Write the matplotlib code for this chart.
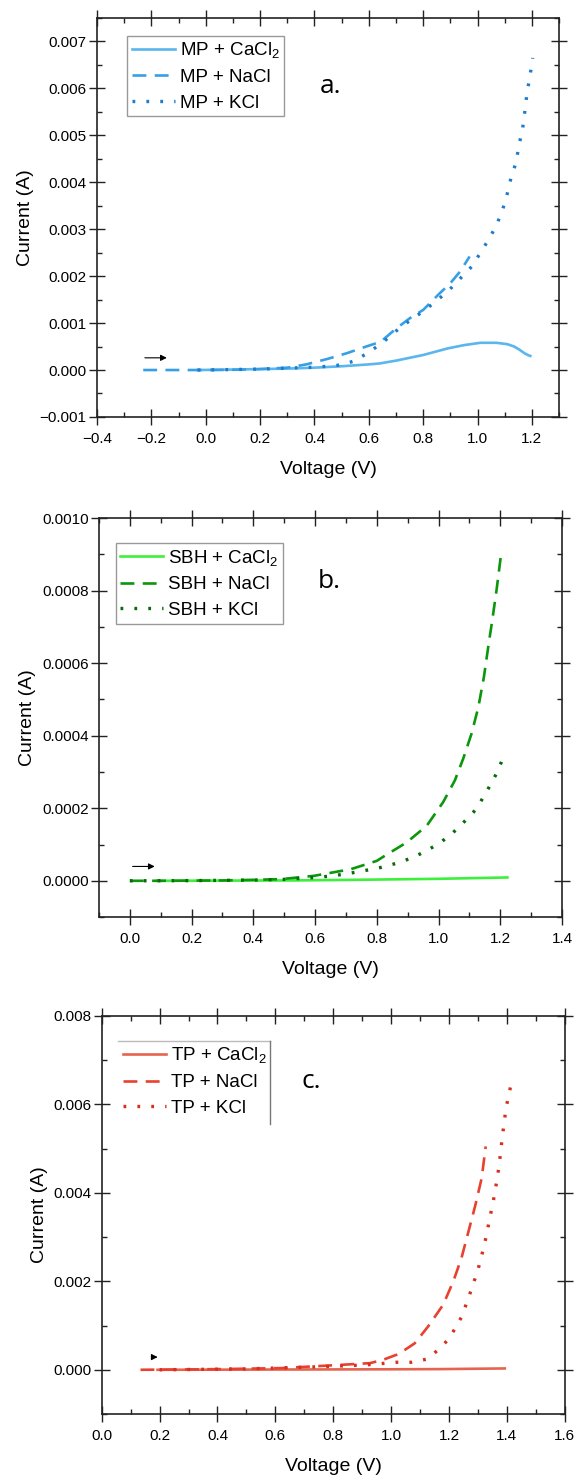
import numpy as np
import matplotlib
matplotlib.use('Agg')
import matplotlib.pyplot as plt
from matplotlib.ticker import MultipleLocator, AutoMinorLocator, FuncFormatter

plt.rcParams['font.family'] = ['Liberation Sans', 'DejaVu Sans']
plt.rcParams['mathtext.default'] = 'regular'
plt.rcParams['lines.scale_dashes'] = False

# ---- panel a: MP ----
a_ca_v = [-0.03, 0.0, 0.1, 0.2, 0.3, 0.4, 0.5, 0.6, 0.64, 0.7, 0.8, 0.89, 0.95, 1.01, 1.07, 1.11, 1.135, 1.155, 1.172, 1.185, 1.194]
a_ca_i = [0, 0.000002, 0.00001, 0.00002, 0.00003, 0.00005, 0.00008, 0.00012, 0.00014, 0.0002, 0.00032, 0.00046, 0.00053, 0.00058, 0.00058, 0.00055, 0.0005, 0.00043, 0.00036, 0.00032, 0.0003]
a_na_v = [-0.23, -0.1, 0.0, 0.1, 0.2, 0.3, 0.37, 0.45, 0.52, 0.59, 0.643, 0.70, 0.75, 0.80, 0.86, 0.90, 0.936, 0.971]
a_na_i = [0, 0, 0, 0.000005, 0.00002, 0.00005, 0.00012, 0.00024, 0.00036, 0.0005, 0.0006, 0.00088, 0.0011, 0.00128, 0.00163, 0.00185, 0.0021, 0.00242]
a_k_v = [-0.03, 0.1, 0.2, 0.3, 0.4, 0.45, 0.5, 0.55, 0.6, 0.65, 0.70, 0.75, 0.80, 0.846, 0.895, 0.938, 0.978, 1.012, 1.045, 1.07, 1.092, 1.107, 1.123, 1.141, 1.153, 1.166, 1.174, 1.182, 1.193, 1.203]
a_k_i = [0, 0.00001, 0.00002, 0.00004, 0.00006, 0.00008, 0.00011, 0.0002, 0.00038, 0.00058, 0.00083, 0.00105, 0.00125, 0.00146, 0.0017, 0.00196, 0.0022, 0.00251, 0.00282, 0.00309, 0.00341, 0.0037, 0.00409, 0.00441, 0.0048, 0.00515, 0.00551, 0.0059, 0.00627, 0.00665]
a_labels = ['MP + CaCl$_2$', 'MP + NaCl', 'MP + KCl']

# ---- panel b: SBH ----
b_ca_v = [0.087, 0.3, 0.53, 0.76, 1.0, 1.223]
b_ca_i = [0, 0.0000005, 0.000001, 0.000003, 0.0000055, 0.0000092]
b_na_v = [0.0, 0.1, 0.2, 0.3, 0.407, 0.49, 0.597, 0.716, 0.80, 0.826, 0.897, 0.962, 1.015, 1.053, 1.08, 1.107, 1.129, 1.147, 1.161, 1.175, 1.188, 1.201]
b_na_i = [0, 0, 0.0000005, 0.000001, 0.0000028, 0.0000046, 0.0000138, 0.000032, 0.000055, 0.000069, 0.000106, 0.000152, 0.000217, 0.000277, 0.000337, 0.000406, 0.000479, 0.000562, 0.000645, 0.000724, 0.000802, 0.00089]
b_k_v = [0.0, 0.2, 0.4, 0.5, 0.6, 0.65, 0.7, 0.76, 0.813, 0.862, 0.913, 0.962, 1.01, 1.046, 1.08, 1.113, 1.137, 1.165, 1.186, 1.207]
b_k_i = [0, 0.0000005, 0.000002, 0.000004, 0.000009, 0.000013, 0.000019, 0.000028, 0.0000368, 0.0000479, 0.0000628, 0.000083, 0.000108, 0.000132, 0.00016, 0.000189, 0.000219, 0.00026, 0.000293, 0.000334]
b_labels = ['SBH + CaCl$_2$', 'SBH + NaCl', 'SBH + KCl']

# ---- panel c: TP ----
c_ca_v = [0.193, 0.5, 0.787, 1.0, 1.166, 1.393]
c_ca_i = [0, 0.000004, 0.000008, 0.000011, 0.000015, 0.00003]
c_na_v = [0.134, 0.3, 0.408, 0.5, 0.623, 0.724, 0.823, 0.927, 0.97, 1.019, 1.05, 1.082, 1.128, 1.18, 1.215, 1.243, 1.266, 1.29, 1.313, 1.327]
c_na_i = [0, 0.000008, 0.000015, 0.000025, 0.000038, 0.000075, 0.00011, 0.00015, 0.00022, 0.00034, 0.00046, 0.0006, 0.00098, 0.00147, 0.002, 0.00252, 0.00309, 0.00369, 0.00433, 0.00505]
c_k_v = [0.2, 0.5, 0.787, 0.913, 1.019, 1.071, 1.123, 1.163, 1.197, 1.22, 1.244, 1.261, 1.281, 1.301, 1.316, 1.33, 1.341, 1.353, 1.364, 1.373, 1.385, 1.397, 1.406, 1.418]
c_k_i = [0, 0.00002, 0.000075, 0.00011, 0.00017, 0.00017, 0.00024, 0.00045, 0.00068, 0.00092, 0.0012, 0.00151, 0.00188, 0.00228, 0.00266, 0.00305, 0.00343, 0.0038, 0.00422, 0.0046, 0.0053, 0.0059, 0.0062, 0.00655]
c_labels = ['TP + CaCl$_2$', 'TP + NaCl', 'TP + KCl']


def fmt(dec):
    return FuncFormatter(lambda v, p: ('%.*f' % (dec, v)).replace('-', '\u2212'))


def style(ax, xlim, ylim, xmaj, ymaj, ydec):
    ax.set_xlim(*xlim)
    ax.set_ylim(*ylim)
    ax.xaxis.set_major_locator(MultipleLocator(xmaj))
    ax.yaxis.set_major_locator(MultipleLocator(ymaj))
    ax.xaxis.set_minor_locator(AutoMinorLocator(2))
    ax.yaxis.set_minor_locator(AutoMinorLocator(2))
    ax.xaxis.set_major_formatter(fmt(1))
    ax.yaxis.set_major_formatter(fmt(ydec))
    ax.tick_params(which='major', direction='inout', length=11, width=1.0,
                   top=True, right=True, labelsize=11, color='#222222')
    ax.tick_params(which='minor', direction='in', length=3.5, width=1.0,
                   top=True, right=True, color='#222222')
    ax.tick_params(axis='x', which='major', pad=5)
    ax.tick_params(axis='y', which='major', pad=2)
    for s in ax.spines.values():
        s.set_linewidth(1.2)
        s.set_color('#222222')
    ax.set_xlabel('Voltage (V)', fontsize=14, labelpad=11)
    ax.set_ylabel('Current (A)', fontsize=14, labelpad=4)


def draw(ax, curves, colors, labels, lw):
    ax.plot(curves[0][0], curves[0][1], color=colors[0], lw=lw, label=labels[0])
    ax.plot(curves[1][0], curves[1][1], color=colors[1], lw=lw, dashes=(10, 6), label=labels[1])
    ax.plot(curves[2][0], curves[2][1], color=colors[2], lw=lw + 0.5, dashes=(2, 8), label=labels[2])


def arrow(ax, x0, x1, y):
    ax.annotate('', xy=(x1, y), xytext=(x0, y),
                arrowprops=dict(arrowstyle='-|>', color='black', lw=0.8, mutation_scale=9))


fig = plt.figure(figsize=(5.74, 14.77), dpi=100)

leg_kw = dict(loc='upper left', fontsize=13.5, handlelength=2.3, handletextpad=0.25,
              labelspacing=0.46, borderpad=0.25, borderaxespad=0, fancybox=False,
              framealpha=1)

# panel a
ax1 = fig.add_axes([0.169, 0.7177, 0.805, 0.2701])
draw(ax1, [(a_ca_v, a_ca_i), (a_na_v, a_na_i), (a_k_v, a_k_i)],
     ['#5ab6ec', '#36a0e6', '#1f7ccc'], a_labels, 1.9)
style(ax1, (-0.4, 1.3), (-0.001, 0.0075), 0.2, 0.001, 3)
lg = ax1.legend(bbox_to_anchor=(0.065, 0.956), edgecolor='#999999', **leg_kw)
lg.get_frame().set_linewidth(1.0)
ax1.text(0.46, 0.0059, 'a.', fontsize=19, family='Open Sans', ha='center', va='baseline')
arrow(ax1, -0.234, -0.133, 0.00026)

# panel b
ax2 = fig.add_axes([0.1725, 0.3791, 0.8066, 0.2701])
draw(ax2, [(b_ca_v, b_ca_i), (b_na_v, b_na_i), (b_k_v, b_k_i)],
     ['#3cf03c', '#0b960b', '#086a08'], b_labels, 1.9)
style(ax2, (-0.1, 1.4), (-0.0001, 0.001), 0.2, 0.0002, 4)
lg = ax2.legend(bbox_to_anchor=(0.036, 0.938), edgecolor='#999999', **leg_kw)
lg.get_frame().set_linewidth(1.0)
ax2.text(0.645, 0.000807, 'b.', fontsize=19, family='Open Sans', ha='center', va='baseline')
arrow(ax2, 0.0, 0.0895, 0.0000396)

# panel c
ax3 = fig.add_axes([0.1772, 0.04265, 0.8066, 0.2695])
draw(ax3, [(c_ca_v, c_ca_i), (c_na_v, c_na_i), (c_k_v, c_k_i)],
     ['#e6644f', '#e8412f', '#d82e1c'], c_labels, 1.9)
style(ax3, (0.0, 1.6), (-0.001, 0.008), 0.2, 0.002, 3)
ax3.legend(bbox_to_anchor=(0.036, 0.938), frameon=False, **leg_kw)
# partial legend border (only top and right edges are visible)
ax3.plot([0.036, 0.3626], [0.938, 0.938], transform=ax3.transAxes, color='#bbbbbb', lw=1.0)
ax3.plot([0.3626, 0.3626], [0.938, 0.7286], transform=ax3.transAxes, color='#777777', lw=1.0)
ax3.text(0.725, 0.00637, 'c.', fontsize=19, family='Open Sans', ha='center', va='baseline')
arrow(ax3, 0.169, 0.203, 0.000287)

fig.savefig('out.png', dpi=100)
